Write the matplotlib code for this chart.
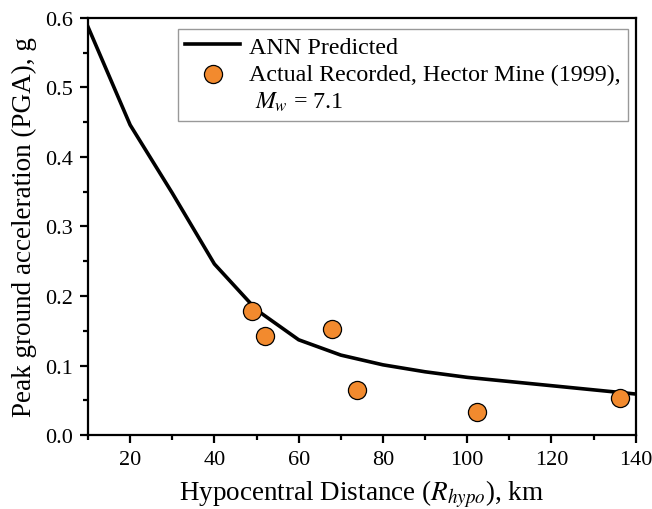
import matplotlib
matplotlib.use("Agg")
import matplotlib.pyplot as plt
from matplotlib.ticker import MultipleLocator
from matplotlib.lines import Line2D

# ANN predicted curve
ann_dist = [10, 20, 30, 40, 50, 60, 70, 80, 90, 100, 110, 120, 130, 140]
ann_pga = [0.587, 0.446, 0.348, 0.246, 0.180, 0.137, 0.115, 0.101, 0.091, 0.083, 0.077, 0.071, 0.065, 0.059]

# Actual recorded, Hector Mine (1999)
rec_dist = [49.0, 52.1, 68.0, 73.9, 102.3, 136.2]
rec_pga = [0.178, 0.143, 0.153, 0.065, 0.033, 0.053]

plt.rcParams['font.family'] = ['Liberation Serif', 'DejaVu Serif']
plt.rcParams['mathtext.fontset'] = 'stix'

fig = plt.figure(figsize=(6.52, 5.10), dpi=100)
ax = fig.add_axes([0.135, 0.145, 0.84, 0.818])

line_h, = ax.plot(ann_dist, ann_pga, color='black', lw=2.6, zorder=2)
sc_h = ax.scatter(rec_dist, rec_pga, s=170, facecolor='#F28A2E', edgecolor='black', linewidth=0.9,
                  zorder=3)
blank = Line2D([], [], linestyle='none', marker='none')

ax.set_xlim(10, 140)
ax.set_ylim(0, 0.6)
ax.xaxis.set_major_locator(MultipleLocator(20))
ax.xaxis.set_minor_locator(MultipleLocator(10))
ax.yaxis.set_major_locator(MultipleLocator(0.1))
ax.yaxis.set_minor_locator(MultipleLocator(0.05))
ax.yaxis.set_major_formatter(matplotlib.ticker.FormatStrFormatter('%.1f'))
ax.tick_params(which='major', direction='out', length=6, width=1.6, labelsize=16, pad=5)
ax.tick_params(which='minor', direction='out', length=3.5, width=1.6)
for s in ax.spines.values():
    s.set_linewidth(1.6)

ax.set_xlabel('Hypocentral Distance ($R_{hypo}$), km', fontsize=19.5, labelpad=6)
ax.set_ylabel('Peak ground acceleration (PGA), g', fontsize=19.5, labelpad=6)

leg = ax.legend([line_h, sc_h, blank],
                ['ANN Predicted', 'Actual Recorded, Hector Mine (1999),', ' $M_w$ = 7.1'],
                loc='upper left', bbox_to_anchor=(0.164, 0.974), fontsize=17.3, frameon=True,
                fancybox=False, edgecolor='#999999', framealpha=1, handlelength=2.3,
                borderpad=0.3, labelspacing=0.22, handletextpad=0.35, borderaxespad=0)
leg.get_frame().set_linewidth(1.0)

fig.savefig('out.png', dpi=100)
